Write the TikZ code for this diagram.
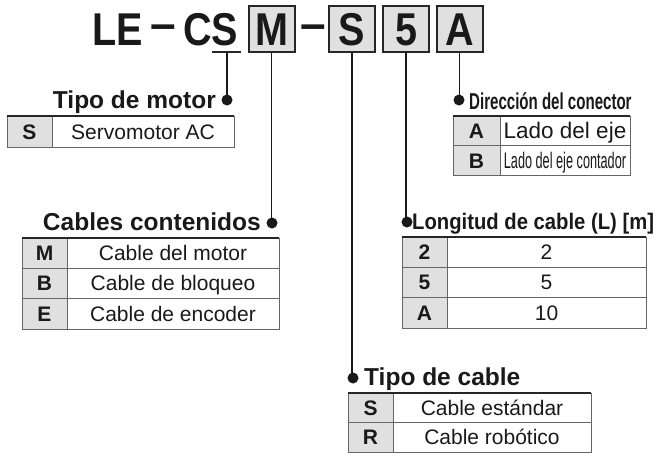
\documentclass[tikz,border=0pt]{standalone}
\usepackage{fontspec}
\setmainfont{Liberation Sans}
\usepackage{graphicx}
\newcommand{\mytframe}[5]{%
  \fill[codefill] (#1,#2) rectangle (#5,#4);
  \draw[tline] (#1,#2) rectangle (#3,#4);
  \draw[tline] (#5,#2) -- (#5,#4);
  \draw[ttop] (#1,#2) -- (#3,#2);
}
\begin{document}
\begin{tikzpicture}[x=1pt,y=-1pt,
  title/.style={font=\fontsize{46}{46}\selectfont\bfseries, inner sep=0pt, anchor=base, text=black!90},
  codebox/.style={draw=black!85, line width=2pt, fill=codefill, minimum width=46pt, minimum height=46pt, inner sep=0pt},
  hd/.style={font=\fontsize{24.5}{24.5}\selectfont\bfseries, inner sep=0pt, text=black!90},
  cell/.style={font=\fontsize{21}{21}\selectfont, inner sep=0pt, anchor=base, text=black!90},
  code/.style={font=\fontsize{21}{21}\selectfont\bfseries, inner sep=0pt, anchor=base, text=black!90},
  conn/.style={line width=1.4pt, draw=black!90},
  tline/.style={line width=0.9pt, draw=black!60},
  ttop/.style={line width=1.6pt, draw=black!85},
  dotc/.style={fill=black!90}
]
\colorlet{codefill}{black!12}
\useasboundingbox (0,0) rectangle (658,456);

% ---- title ----
\node[title] (tLE) at (117.5,45.5) {\scalebox{0.86}[1]{LE}};
\node[title] (tD1) at (163.5,39) {–};
\node[title] (tCS) at (210.5,45.5) {\scalebox{0.86}[1]{CS}};
\node[title] (tD2) at (313.5,39) {–};

\node[codebox] (bM) at (271.5,29) {};
\node[codebox] (bS) at (352,29) {};
\node[codebox] (b5) at (406,29) {};
\node[codebox] (bA) at (459.5,29) {};
\node[title] (lM) at (bM.center |- 0,45.5) {\scalebox{0.86}[1]{M}};
\node[title] (lS) at (bS.center |- 0,45.5) {\scalebox{0.86}[1]{S}};
\node[title] (l5) at (b5.center |- 0,45.5) {\scalebox{0.86}[1]{5}};
\node[title] (lA) at (bA.center |- 0,45.5) {\scalebox{0.86}[1]{A}};

% ---- underline under S of CS ----
\coordinate (uL) at (212,52);
\coordinate (uR) at (241,52);
\coordinate (uC) at (227,52);
\draw[line width=1.4pt, black!85] (uL) -- (uR);

% ---- dots ----
\coordinate (dT) at (227,100);
\coordinate (dM) at (272,223);
\coordinate (dS) at (353,378);
\coordinate (d5) at (407,222);
\coordinate (dA) at (459,100);

\draw[conn] (uC) -- (dT);
\draw[conn] (bM.south) -- (bM.south |- dM);
\draw[conn] (bS.south) -- (bS.south |- dS);
\draw[conn] (b5.south) -- (b5.south |- d5);
\draw[conn] (bA.south) -- (bA.south |- dA);
\foreach \d in {dT,dM,dS,d5,dA} \fill[dotc] (\d) circle (5.5pt);

% ---- headings ----
\node[hd, anchor=base east] (hT) at (216,108.5) {Tipo de motor};
\node[hd, anchor=base east] (hC) at (261,230) {Cables contenidos};
\node[hd, anchor=base west] (hK) at (364,385) {Tipo de cable};
\node[hd, anchor=base west, font=\fontsize{23}{23}\selectfont\bfseries] (hD) at (469,109) {\scalebox{0.655}[1]{Dirección del conector}};
\node[hd, anchor=base west, font=\fontsize{22.5}{22.5}\selectfont\bfseries] (hL) at (412,229) {\scalebox{0.9}[1]{Longitud de cable (L) [m]}};

% ---- Tipo de motor table ----
\mytframe{7}{116}{234}{147}{52}
\node[code] (tS) at (29.5,139) {S};
\node[cell] (tSd) at (143,139) {Servomotor AC};

% ---- Cables contenidos table ----
\mytframe{22}{238}{279}{329}{67}
\draw[tline] (22,268) -- (279,268);
\draw[tline] (22,298) -- (279,298);
\node[code] (cM) at (44.5,260.5) {M};
\node[cell] (cMd) at (173,260.5) {Cable del motor};
\node[code] (cB) at (44.5,290.5) {B};
\node[cell] (cBd) at (173,290.5) {Cable de bloqueo};
\node[code] (cE) at (44.5,321) {E};
\node[cell] (cEd) at (173,321) {Cable de encoder};

% ---- Direccion table ----
\mytframe{453}{116}{630}{175}{500}
\draw[tline] (453,145) -- (630,145);
\node[code] (dAc) at (476.5,138.5) {A};
\node[cell, font=\fontsize{22.5}{22.5}\selectfont] (dAd) at (565,138.5) {Lado del eje};
\node[code] (dBc) at (476.5,168) {B};
\node[cell, font=\fontsize{22.5}{22.5}\selectfont] (dBd) at (565,168) {\scalebox{0.565}[1]{Lado del eje contador}};

% ---- Longitud table ----
\mytframe{402}{237}{646}{328}{447}
\draw[tline] (402,267) -- (646,267);
\draw[tline] (402,297) -- (646,297);
\node[code] (l2c) at (424.5,259.5) {2};
\node[cell] (l2d) at (546.5,259.5) {2};
\node[code] (l5c) at (424.5,289.5) {5};
\node[cell] (l5d) at (546.5,289.5) {5};
\node[code] (lAc) at (424.5,320) {A};
\node[cell] (lAd) at (546.5,320) {10};

% ---- Tipo de cable table ----
\mytframe{348}{393}{591}{452}{393}
\draw[tline] (348,422) -- (591,422);
\node[code] (kS) at (370.5,415) {S};
\node[cell] (kSd) at (492,415) {Cable estándar};
\node[code] (kR) at (370.5,444.5) {R};
\node[cell] (kRd) at (492,444.5) {Cable robótico};
\end{tikzpicture}
\end{document}
